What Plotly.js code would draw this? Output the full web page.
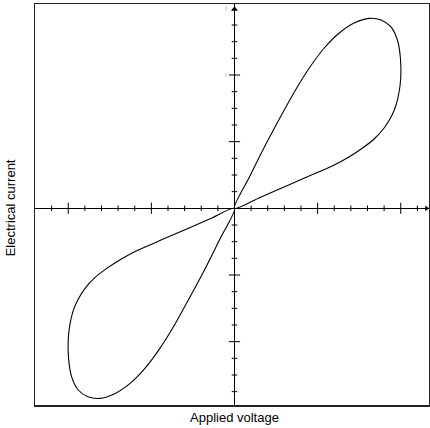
<!DOCTYPE html>
<html>
<head>
<meta charset="utf-8">
<script src="https://cdn.plot.ly/plotly-3.0.1.min.js"></script>
<style>html,body{margin:0;padding:0;background:#fff;}#chart{width:430px;height:428px;}</style>
</head>
<body>
<div id="chart"></div>
<script>
// Pinched hysteresis loop (units = one minor tick)
var voltageUpper = [0, 0.9, 1.8, 2.7, 3.6, 4.5, 5.4, 6.3, 7.2, 8.1, 8.82, 9.4, 9.8, 9.98, 10.0, 9.9, 9.72, 9.48, 9.0, 8.4, 7.62, 6.78, 5.88, 4.98, 3.9, 2.7, 1.5, 0];
var currentUpper = [0, 1.88, 3.68, 5.36, 6.98, 8.42, 9.62, 10.52, 11.12, 11.4, 11.3, 10.9, 10.1, 9.02, 7.82, 6.98, 6.2, 5.6, 4.82, 4.16, 3.56, 3.02, 2.54, 2.15, 1.68, 1.16, 0.64, 0];
var voltageLower = [0, -0.9, -1.8, -2.7, -3.6, -4.5, -5.4, -6.3, -7.2, -8.1, -8.82, -9.4, -9.8, -9.98, -10.0, -9.9, -9.72, -9.48, -9.0, -8.4, -7.62, -6.78, -5.88, -4.98, -3.9, -2.7, -1.5, 0];
var currentLower = [0, -1.88, -3.68, -5.36, -6.98, -8.42, -9.62, -10.52, -11.12, -11.4, -11.3, -10.9, -10.1, -9.02, -7.82, -6.98, -6.2, -5.6, -4.82, -4.16, -3.56, -3.02, -2.54, -2.15, -1.68, -1.16, -0.64, 0];
var xTitle = "Applied voltage";
var yTitle = "Electrical current";

var xRange = [-12.0, 11.7];
var yRange = [-11.8, 12.26];

// tick decorations on the axes through the origin
var xMinor = [], xMajor = [], yMinor = [], yMajor = [];
for (var i = -11; i <= 11; i++) {
  if (i === 0) continue;
  if (i % 5 === 0) xMajor.push(i); else xMinor.push(i);
}
for (var j = -11; j <= 11; j++) {
  if (j === 0) continue;
  if (j % 4 === 0) yMajor.push(j); else yMinor.push(j);
}
function zeros(a){ return a.map(function(){return 0;}); }

var curveLine = {color: '#000', width: 1.1, shape: 'spline', smoothing: 0.8};
var traces = [
  {x: voltageUpper, y: currentUpper, mode: 'lines', line: curveLine, hoverinfo: 'skip'},
  {x: voltageLower, y: currentLower, mode: 'lines', line: curveLine, hoverinfo: 'skip'},
  {x: xMinor, y: zeros(xMinor), mode: 'markers', marker: {symbol: 'line-ns-open', size: 4, color: '#000', line: {color: '#000', width: 1}}, hoverinfo: 'skip'},
  {x: xMajor, y: zeros(xMajor), mode: 'markers', marker: {symbol: 'line-ns-open', size: 8, color: '#000', line: {color: '#000', width: 1}}, hoverinfo: 'skip'},
  {x: zeros(yMinor), y: yMinor, mode: 'markers', marker: {symbol: 'line-ew-open', size: 4, color: '#000', line: {color: '#000', width: 1}}, hoverinfo: 'skip'},
  {x: zeros(yMajor), y: yMajor, mode: 'markers', marker: {symbol: 'line-ew-open', size: 8, color: '#000', line: {color: '#000', width: 1}}, hoverinfo: 'skip'},
  {x: [0], y: [11.95], mode: 'markers', marker: {symbol: 'triangle-up', size: 6, color: '#000'}, hoverinfo: 'skip', cliponaxis: false},
  {x: [11.55], y: [0], mode: 'markers', marker: {symbol: 'triangle-right', size: 5, color: '#000'}, hoverinfo: 'skip', cliponaxis: false}
];

var layout = {
  width: 430, height: 428,
  margin: {l: 35, r: 1, t: 4, b: 23},
  paper_bgcolor: '#fff', plot_bgcolor: '#fff',
  showlegend: false,
  font: {family: 'Liberation Sans, Arial, sans-serif', color: '#000'},
  xaxis: {range: xRange, showgrid: false, showticklabels: false, ticks: '', zeroline: true, zerolinecolor: '#000', zerolinewidth: 1.3,
          showline: true, mirror: true, linecolor: '#222', linewidth: 1.5},
  yaxis: {range: yRange, showgrid: false, showticklabels: false, ticks: '', zeroline: true, zerolinecolor: '#000', zerolinewidth: 1.3,
          showline: true, mirror: true, linecolor: '#222', linewidth: 1.5},
  annotations: [
    {text: xTitle, xref: 'x', yref: 'paper', x: 0, y: 0, xanchor: 'center', yanchor: 'top', yshift: -3, showarrow: false, font: {size: 13, color: '#000'}},
    {text: yTitle, xref: 'paper', yref: 'y', x: 0, y: 0, xanchor: 'center', yanchor: 'middle', xshift: -25, textangle: -90, showarrow: false, font: {size: 13, color: '#000'}},
    {text: '!', xref: 'x', yref: 'y', x: -0.5, y: 12.0, showarrow: false, font: {size: 7, color: '#999'}},
    {text: '!', xref: 'x', yref: 'y', x: -0.5, y: 8.0, showarrow: false, font: {size: 7, color: '#999'}}
  ]
};

Plotly.newPlot('chart', traces, layout, {staticPlot: true, displayModeBar: false});
</script>
</body>
</html>
